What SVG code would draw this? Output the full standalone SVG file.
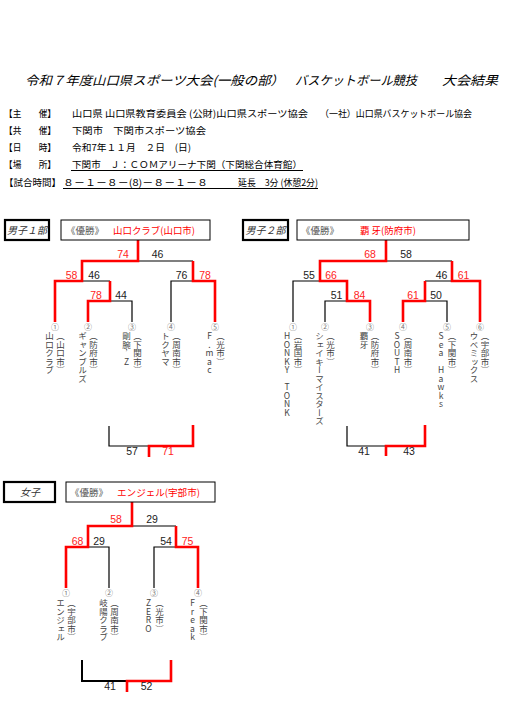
<svg xmlns="http://www.w3.org/2000/svg" width="508" height="722" viewBox="0 0 508 722">
<style>
text{font-family:"Noto Sans CJK JP","Noto Sans",sans-serif;fill:#000}
.ttl{font-size:12.5px;font-style:italic}
.hd{font-size:9.5px}
.lab{font-size:10px;font-style:italic;text-anchor:middle;fill:#333}
.yu{font-size:9.5px;fill:#555}
.win{font-size:9.5px;fill:#f00}
.sc{font-family:"Liberation Sans",Arial,sans-serif;font-size:10.5px;text-anchor:middle;fill:#222}
.scr{fill:#f22}
.num{font-size:8px;text-anchor:middle;fill:#777}
.vt{font-size:8.5px;writing-mode:vertical-rl;text-orientation:upright;fill:#444}
.k{fill:none;stroke:#000;stroke-width:1.2}
.k2{fill:none;stroke:#000;stroke-width:2}
.r{fill:none;stroke:#f00;stroke-width:2.6}
.bx{fill:#fff;stroke:#000;stroke-width:1}
.lb{fill:#fff;stroke:#000;stroke-width:2.2}
.ul{stroke:#000;stroke-width:1}
</style>
<rect width="508" height="722" fill="#fff"/>
<g id="title">
<text class="ttl" x="25" y="84.5" textLength="259" lengthAdjust="spacingAndGlyphs">令和７年度山口県スポーツ大会(一般の部）</text>
<text class="ttl" x="295" y="84.5" textLength="122" lengthAdjust="spacingAndGlyphs">バスケットボール競技</text>
<text class="ttl" x="442" y="84.5" textLength="56" lengthAdjust="spacingAndGlyphs">大会結果</text>
</g>
<g id="header">
<text class="hd" x="4" y="116.5" textLength="52" lengthAdjust="spacingAndGlyphs">【主　　催】</text>
<text class="hd" x="72" y="116.5" textLength="236" lengthAdjust="spacingAndGlyphs">山口県 山口県教育委員会 (公財)山口県スポーツ協会</text>
<text class="hd" x="320" y="116.5" textLength="152" lengthAdjust="spacingAndGlyphs">（一社）山口県バスケットボール協会</text>
<text class="hd" x="4" y="133.5" textLength="52" lengthAdjust="spacingAndGlyphs">【共　　催】</text>
<text class="hd" x="72" y="133.5" textLength="134" lengthAdjust="spacingAndGlyphs">下関市　下関市スポーツ協会</text>
<text class="hd" x="4" y="150.5" textLength="52" lengthAdjust="spacingAndGlyphs">【日　　時】</text>
<text class="hd" x="72" y="150.5" textLength="119" lengthAdjust="spacingAndGlyphs">令和7年１１月　２日　(日)</text>
<text class="hd" x="4" y="167.5" textLength="52" lengthAdjust="spacingAndGlyphs">【場　　所】</text>
<text class="hd" x="72" y="167.5" textLength="230" lengthAdjust="spacingAndGlyphs">下関市　Ｊ：ＣＯＭアリーナ下関（下関総合体育館）</text>
<line class="ul" x1="71" y1="170.5" x2="303" y2="170.5"/>
<text class="hd" x="4" y="185.5" textLength="57" lengthAdjust="spacingAndGlyphs">【試合時間】</text>
<text class="hd" x="63" y="185.5" textLength="145" lengthAdjust="spacingAndGlyphs">８－１－８－(8)－８－１－８</text>
<text class="hd" x="238" y="185.5" textLength="80" lengthAdjust="spacingAndGlyphs">延長　3分 (休憩2分)</text>
<line class="ul" x1="63" y1="188.5" x2="318" y2="188.5"/>
</g>
<g id="connectors">
<path class="k" d="M138,261H193M82,281H110M110,301H132V322M171,322V281H193M109,426V446H149"/>
<path class="r" d="M138,240V261H82V281H55V322M88,322V301H110V281M215,322V281H193V261M193,425V446H149V457"/>
<path class="k" d="M386,261H452M293,322V281H320M325,322V301H347M425,281H452M447,322V301H425M347,426V446H386"/>
<path class="r" d="M386,240V261H320V281H347V301H370V322M403,322V301H425V281M480,322V281H452V261M425,425V446H386V456"/>
<path class="k" d="M132,526H176M88,547H109V588M154,588V547H176"/>
<path class="k2" d="M82,660V681H127"/>
<path class="r" d="M132,502V526H88V547H66V588M198,588V547H176V526M171,660V681H127V692"/>
</g>
<g id="men1-label"><rect class="lb" x="5" y="220" width="44" height="20"/><text class="lab" x="27" y="233.5">男子１部</text></g>
<g id="men1-winner"><rect class="bx" x="61" y="220" width="149" height="20"/><text class="yu" x="66" y="233.5">《優勝》</text><text class="win" x="113" y="233.5" textLength="82" lengthAdjust="spacingAndGlyphs">山口クラブ(山口市)</text></g>
<g id="men1-scores">
<text class="sc scr" x="123" y="258">74</text><text class="sc" x="157.5" y="258">46</text>
<text class="sc scr" x="71.5" y="278.5">58</text><text class="sc" x="94" y="278.5">46</text>
<text class="sc" x="181.5" y="278.5">76</text><text class="sc scr" x="205" y="278.5">78</text>
<text class="sc scr" x="96" y="299">78</text><text class="sc" x="121" y="299">44</text>
<text class="sc" x="132" y="455">57</text><text class="sc scr" x="168" y="455">71</text>
</g>
<g id="m1-t1"><text class="num" x="55" y="330">①</text><text class="vt" x="49.5" y="332">山口クラブ</text><text class="vt" x="60.5" y="332">（山口市）</text></g>
<g id="m1-t2"><text class="num" x="88" y="330">②</text><text class="vt" x="82.5" y="332">ギャンブルズ</text><text class="vt" x="93.5" y="332">（防府市）</text></g>
<g id="m1-t3"><text class="num" x="132" y="330">③</text><text class="vt" x="126.5" y="332">剛腕’Z</text><text class="vt" x="137.5" y="332">（下関市）</text></g>
<g id="m1-t4"><text class="num" x="171" y="330">④</text><text class="vt" x="165.5" y="332">トクヤマ</text><text class="vt" x="176.5" y="332">（周南市）</text></g>
<g id="m1-t5"><text class="num" x="215" y="330">⑤</text><text class="vt" x="209.5" y="332">F.mac</text><text class="vt" x="220.5" y="332">（光市）</text></g>
<g id="men2-label"><rect class="lb" x="243" y="220" width="45" height="20"/><text class="lab" x="265.5" y="233.5">男子２部</text></g>
<g id="men2-winner"><rect class="bx" x="297" y="220" width="172" height="20"/><text class="yu" x="301" y="233.5">《優勝》</text><text class="win" x="360" y="233.5" textLength="56" lengthAdjust="spacingAndGlyphs">覇 牙(防府市)</text></g>
<g id="men2-scores">
<text class="sc scr" x="370" y="258">68</text><text class="sc" x="406" y="258">58</text>
<text class="sc" x="309" y="278.5">55</text><text class="sc scr" x="331" y="278.5">66</text>
<text class="sc" x="441.5" y="278.5">46</text><text class="sc scr" x="463.5" y="278.5">61</text>
<text class="sc" x="336.5" y="299">51</text><text class="sc scr" x="359.5" y="299">84</text>
<text class="sc scr" x="413" y="299">61</text><text class="sc" x="436" y="299">50</text>
<text class="sc" x="364" y="455">41</text><text class="sc" x="409" y="455">43</text>
</g>
<g id="m2-t1"><text class="num" x="293" y="330">①</text><text class="vt" x="287" y="332">HONKY TONK</text><text class="vt" x="298" y="332">（岩国市）</text></g>
<g id="m2-t2"><text class="num" x="325" y="330">②</text><text class="vt" x="319.5" y="332">シェイキーマイスターズ</text><text class="vt" x="330.5" y="332">（光市）</text></g>
<g id="m2-t3"><text class="num" x="370" y="330">③</text><text class="vt" x="364" y="332">覇牙</text><text class="vt" x="375" y="332">（防府市）</text></g>
<g id="m2-t4"><text class="num" x="403" y="330">④</text><text class="vt" x="397" y="332">SOUTH</text><text class="vt" x="408" y="332">（周南市）</text></g>
<g id="m2-t5"><text class="num" x="447" y="330">⑤</text><text class="vt" x="441" y="332">Sea Hawks</text><text class="vt" x="452" y="332">（下関市）</text></g>
<g id="m2-t6"><text class="num" x="480" y="330">⑥</text><text class="vt" x="474" y="332">ウベミックス</text><text class="vt" x="485" y="332">（宇部市）</text></g>
<g id="women-label"><rect class="lb" x="4" y="482" width="51" height="20"/><text class="lab" x="30" y="495.5">女子</text></g>
<g id="women-winner"><rect class="bx" x="66" y="482" width="149" height="20"/><text class="yu" x="70" y="495.5">《優勝》</text><text class="win" x="117" y="495.5" textLength="83" lengthAdjust="spacingAndGlyphs">エンジェル(宇部市)</text></g>
<g id="women-scores">
<text class="sc scr" x="116" y="523">58</text><text class="sc" x="152" y="523">29</text>
<text class="sc scr" x="77.5" y="544.5">68</text><text class="sc" x="99" y="544.5">29</text>
<text class="sc" x="166" y="544.5">54</text><text class="sc scr" x="187.5" y="544.5">75</text>
<text class="sc" x="110" y="690">41</text><text class="sc" x="146.5" y="690">52</text>
</g>
<g id="w-t1"><text class="num" x="66" y="596">①</text><text class="vt" x="60.5" y="599">エンジェル</text><text class="vt" x="71.5" y="599">（宇部市）</text></g>
<g id="w-t2"><text class="num" x="109" y="596">②</text><text class="vt" x="103.5" y="599">岐陽クラブ</text><text class="vt" x="114.5" y="599">（周南市）</text></g>
<g id="w-t3"><text class="num" x="154" y="596">③</text><text class="vt" x="148.5" y="599">ZERO</text><text class="vt" x="159.5" y="599">（光市）</text></g>
<g id="w-t4"><text class="num" x="198" y="596">④</text><text class="vt" x="192.5" y="599">Freak</text><text class="vt" x="203.5" y="599">（下関市）</text></g>
</svg>
